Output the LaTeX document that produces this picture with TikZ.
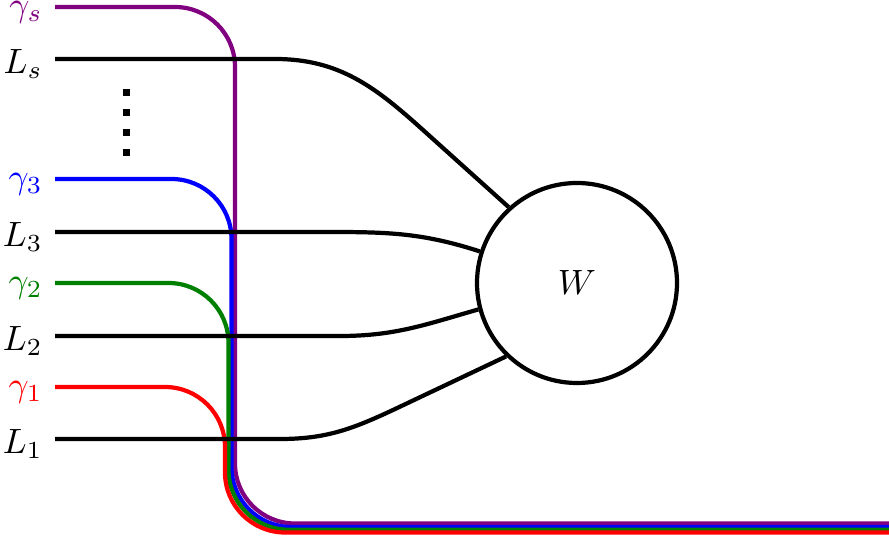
\documentclass[tikz,border=0pt]{standalone}
\definecolor{gpurple}{RGB}{128,0,128}
\definecolor{ggreen}{RGB}{0,128,0}
\begin{document}
\begin{tikzpicture}[wire/.style={very thick}, gline/.style={very thick, rounded corners=0.6cm}, lbl/.style={left, yshift=-1.5pt}]
	\useasboundingbox (0,0) rectangle (8.89,5.40);
	% start points of the lines
	\coordinate (gs) at (0.55,5.33);
	\coordinate (ls) at (0.55,4.81);
	\coordinate (g3) at (0.55,3.61);
	\coordinate (l3) at (0.55,3.08);
	\coordinate (g2) at (0.55,2.57);
	\coordinate (l2) at (0.55,2.04);
	\coordinate (g1) at (0.55,1.53);
	\coordinate (l1) at (0.55,1.01);
	% labels
	\node[lbl, gpurple] (tgs) at (gs) {$\gamma_s$};
	\node[lbl] (tls) at (ls) {$L_s$};
	\node[lbl, blue] (tg3) at (g3) {$\gamma_3$};
	\node[lbl] (tl3) at (l3) {$L_3$};
	\node[lbl, ggreen] (tg2) at (g2) {$\gamma_2$};
	\node[lbl] (tl2) at (l2) {$L_2$};
	\node[lbl, red] (tg1) at (g1) {$\gamma_1$};
	\node[lbl] (tl1) at (l1) {$L_1$};
	\foreach \y in {4.47,4.27,4.07,3.87}
		\fill (1.26,\y) +(-0.035,-0.035) rectangle +(0.035,0.035);
	% the gamma paths
	\draw[gline, gpurple] (gs) -- (2.35,5.33) -- (2.35,0.165) -- (8.89,0.165);
	\draw[gline, blue] (g3) -- (2.315,3.61) -- (2.315,0.13) -- (8.89,0.13);
	\draw[gline, ggreen] (g2) -- (2.285,2.57) -- (2.285,0.103) -- (8.89,0.103);
	\draw[gline, red] (g1) -- (2.25,1.53) -- (2.25,0.075) -- (8.89,0.075);
	% W and the L lines
	\node[draw, very thick, circle, minimum size=2cm] (W) at (5.77,2.57) {$W$};
	\draw[wire] (ls) -- (2.75,4.81) to[out=0,in=138] (4.23,4.10) -- (W.132);
	\draw[wire] (l3) -- (3.3,3.08) to[out=0,in=162] (W.162);
	\draw[wire] (l2) -- (3.4,2.04) to[out=0,in=196] (W.195);
	\draw[wire] (l1) -- (2.8,1.01) to[out=0,in=205] (3.93,1.30) -- (W.226);
\end{tikzpicture}
\end{document}
